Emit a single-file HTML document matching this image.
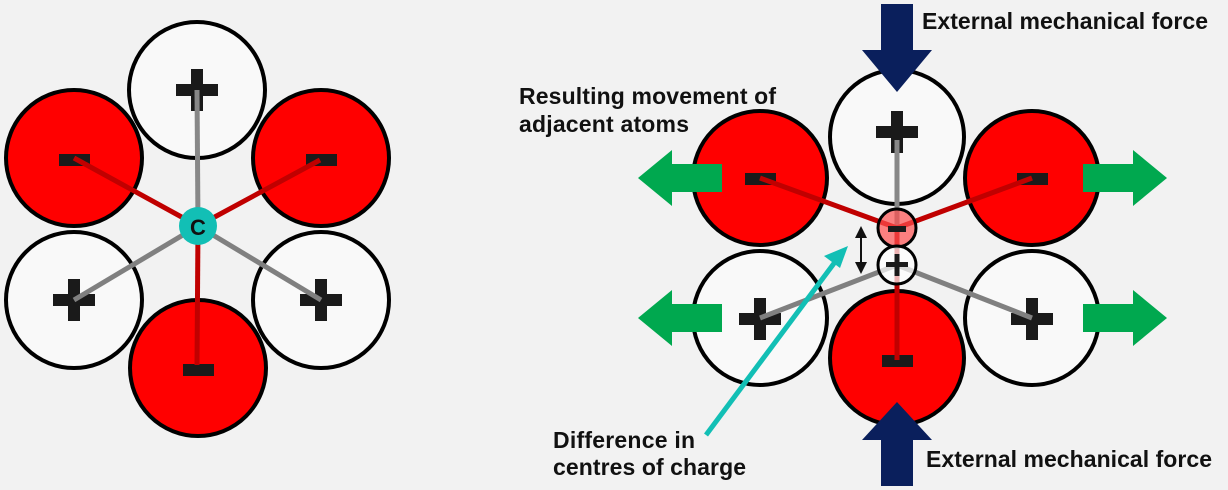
<!DOCTYPE html>
<html><head><meta charset="utf-8"><style>
html,body{margin:0;padding:0;background:#f2f2f2}
svg{display:block}
text{font-family:"Liberation Sans",sans-serif;font-weight:bold;fill:#111}
</style></head><body>
<svg width="1228" height="490" viewBox="0 0 1228 490">
<defs>
<marker id="ah" markerWidth="6" markerHeight="6" refX="3" refY="3" orient="auto-start-reverse"><path d="M0,0L6,3L0,6z" fill="#111"/></marker>
</defs>
<g>
<circle cx="197" cy="90" r="68" fill="#f9f9f9" stroke="#000" stroke-width="4"/>
<circle cx="74" cy="158" r="68" fill="#f00" stroke="#000" stroke-width="4"/>
<circle cx="321" cy="158" r="68" fill="#f00" stroke="#000" stroke-width="4"/>
<circle cx="74" cy="300" r="68" fill="#f9f9f9" stroke="#000" stroke-width="4"/>
<circle cx="321" cy="300" r="68" fill="#f9f9f9" stroke="#000" stroke-width="4"/>
<circle cx="198" cy="368" r="68" fill="#f00" stroke="#000" stroke-width="4"/>
<g fill="#1a1a1a">
<rect x="176" y="84" width="42" height="12"/><rect x="191" y="69" width="12" height="42"/>
<rect x="59" y="154" width="31" height="12"/><rect x="306" y="154" width="31" height="12"/>
<rect x="53" y="294" width="42" height="12"/><rect x="68" y="279" width="12" height="42"/>
<rect x="300" y="294" width="42" height="12"/><rect x="315" y="279" width="12" height="42"/>
<rect x="183" y="364" width="31" height="12"/>
</g>
<g stroke-width="5">
<line x1="197" y1="90" x2="198" y2="226" stroke="#888"/>
<line x1="74" y1="158" x2="198" y2="226" stroke="#c00000"/>
<line x1="320" y1="160" x2="198" y2="226" stroke="#c00000"/>
<line x1="74" y1="300" x2="198" y2="226" stroke="#808080"/>
<line x1="321" y1="300" x2="198" y2="226" stroke="#808080"/>
<line x1="197" y1="365" x2="198" y2="226" stroke="#c00000"/>
</g>
<circle cx="198" cy="226" r="19" fill="#12bfb5"/>
<text x="198" y="235" text-anchor="middle" font-size="22">C</text>
</g>
<g>
<circle cx="897" cy="137" r="67" fill="#f9f9f9" stroke="#000" stroke-width="4"/>
<circle cx="760" cy="178" r="67" fill="#f00" stroke="#000" stroke-width="4"/>
<circle cx="1032" cy="178" r="67" fill="#f00" stroke="#000" stroke-width="4"/>
<circle cx="760" cy="318" r="67" fill="#f9f9f9" stroke="#000" stroke-width="4"/>
<circle cx="1032" cy="318" r="67" fill="#f9f9f9" stroke="#000" stroke-width="4"/>
<circle cx="897" cy="358" r="67" fill="#f00" stroke="#000" stroke-width="4"/>
<g fill="#1a1a1a">
<rect x="876" y="126" width="42" height="12"/><rect x="891" y="111" width="12" height="42"/>
<rect x="745" y="173" width="31" height="12"/><rect x="1017" y="173" width="31" height="12"/>
<rect x="739" y="313" width="42" height="12"/><rect x="754" y="298" width="12" height="42"/>
<rect x="1011" y="313" width="42" height="12"/><rect x="1026" y="298" width="12" height="42"/>
<rect x="882" y="355" width="31" height="12"/>
</g>
<g stroke-width="5">
<line x1="897" y1="140" x2="897" y2="265" stroke="#888"/>
<line x1="760" y1="178" x2="897" y2="228" stroke="#c00000"/>
<line x1="1032" y1="178" x2="897" y2="228" stroke="#c00000"/>
<line x1="760" y1="318" x2="897" y2="265" stroke="#808080"/>
<line x1="1032" y1="318" x2="897" y2="265" stroke="#808080"/>
<line x1="897" y1="360" x2="897" y2="228" stroke="#c00000"/>
</g>
<circle cx="897" cy="228" r="19" fill="rgba(255,80,80,0.7)" stroke="#000" stroke-width="3"/>
<rect x="888" y="226" width="18" height="6" fill="#1a1a1a"/>
<circle cx="897" cy="265" r="19" fill="rgba(255,255,255,0.7)" stroke="#000" stroke-width="3"/>
<rect x="886" y="262" width="22" height="5" fill="#1a1a1a"/><rect x="894.5" y="254" width="5" height="22" fill="#1a1a1a"/>
<line x1="861" y1="232" x2="861" y2="268" stroke="#111" stroke-width="2" marker-start="url(#ah)" marker-end="url(#ah)"/>
</g>
<g fill="#00a84f">
<path d="M722,164H672V150L638,178L672,206V192H722Z"/>
<path d="M722,304H672V290L638,318L672,346V332H722Z"/>
<path d="M1083,164H1133V150L1167,178L1133,206V192H1083Z"/>
<path d="M1083,304H1133V290L1167,318L1133,346V332H1083Z"/>
</g>
<g fill="#0a1f5c">
<path d="M881,4H913V50H932L897,92L862,50H881Z"/>
<path d="M881,486H913V440H932L897,402L862,440H881Z"/>
</g>
<g>
<line x1="706" y1="435" x2="835" y2="262" stroke="#12bfb5" stroke-width="5"/>
<path d="M848,246L824,256L840,268Z" fill="#12bfb5"/>
</g>
<text x="922" y="29" font-size="23" textLength="286">External mechanical force</text>
<text x="926" y="467" font-size="23" textLength="286">External mechanical force</text>
<text x="519" y="104" font-size="23" textLength="257">Resulting movement of</text>
<text x="519" y="132" font-size="23" textLength="170">adjacent atoms</text>
<text x="553" y="448" font-size="23" textLength="142">Difference in</text>
<text x="553" y="475" font-size="23" textLength="193">centres of charge</text>
</svg>
</body></html>
